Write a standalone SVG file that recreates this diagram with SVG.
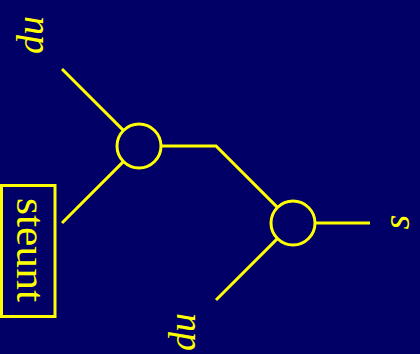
<svg xmlns="http://www.w3.org/2000/svg" width="420" height="354" viewBox="0 0 420 354">
<style>
.ln{fill:none;stroke:#ffff00;stroke-width:3;stroke-linecap:butt;stroke-linejoin:miter}
.nd{fill:none;stroke:#ffff00;stroke-width:3}
.lbl{fill:#ffff00;font-family:"Liberation Serif","DejaVu Serif",serif;font-style:italic;font-size:38px}
.box{fill:none;stroke:#ffff00;stroke-width:3}
.txt{fill:#ffff00;font-family:"Liberation Serif","DejaVu Serif",serif;font-size:40px}
</style>
<rect x="0" y="0" width="420" height="354" fill="#000066"/>
<g id="connectors">
<line class="ln" x1="62" y1="69" x2="123.4" y2="130.4"/>
<line class="ln" x1="62" y1="223" x2="123.4" y2="161.6"/>
<polyline class="ln" points="161,146 216,146 277.4,207.4"/>
<line class="ln" x1="315" y1="223" x2="370" y2="223"/>
<line class="ln" x1="216" y1="300" x2="277.4" y2="238.6"/>
</g>
<g id="vertex1"><circle class="nd" cx="139" cy="146" r="22"/></g>
<g id="vertex2"><circle class="nd" cx="293" cy="223" r="22"/></g>
<g id="label-top"><text class="lbl" transform="translate(43,35) rotate(-90)" text-anchor="middle">du</text></g>
<g id="label-bottom"><text class="lbl" transform="translate(195,332) rotate(-90)" text-anchor="middle">du</text></g>
<g id="label-s"><text class="lbl" transform="translate(409,222) rotate(-90)" text-anchor="middle">s</text></g>
<g id="steunt">
<rect class="box" x="1.5" y="185.5" width="53.5" height="131"/>
<text class="txt" transform="translate(17,198) rotate(90)" textLength="104" lengthAdjust="spacingAndGlyphs">steunt</text>
</g>
</svg>
